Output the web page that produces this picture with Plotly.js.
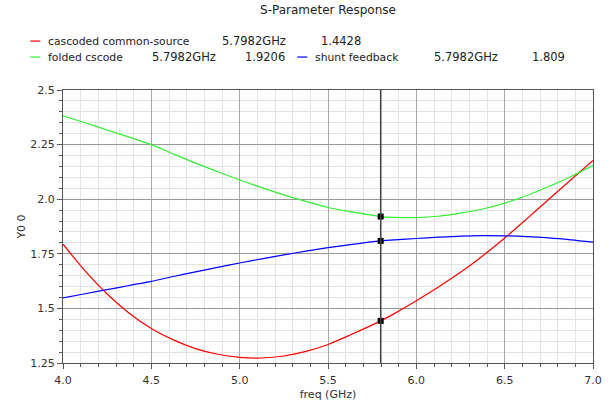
<!DOCTYPE html>
<html><head><meta charset="utf-8">
<script src="https://cdn.plot.ly/plotly-3.0.1.min.js"></script>
<style>html,body{margin:0;padding:0;background:#fff;}#chart{width:614px;height:406px;}</style>
</head><body><div id="chart"></div>
<script>
const freq = [4.0, 4.125, 4.25, 4.375, 4.5, 4.625, 4.75, 4.875, 5.0, 5.125, 5.25, 5.375, 5.5, 5.625, 5.7982, 5.875, 6.0, 6.125, 6.25, 6.375, 6.5, 6.625, 6.75, 6.875, 7.0];
const cascodedCS = [1.794, 1.672, 1.566, 1.478, 1.408, 1.356, 1.316, 1.290, 1.276, 1.273, 1.282, 1.303, 1.335, 1.378, 1.4428, 1.476, 1.535, 1.598, 1.665, 1.740, 1.822, 1.910, 2.000, 2.089, 2.177];
const foldedCscode = [2.382, 2.350, 2.317, 2.284, 2.250, 2.207, 2.165, 2.126, 2.088, 2.053, 2.020, 1.990, 1.962, 1.943, 1.9206, 1.917, 1.916, 1.922, 1.936, 1.955, 1.982, 2.017, 2.058, 2.104, 2.154];
const shuntFeedback = [1.548, 1.567, 1.586, 1.605, 1.624, 1.646, 1.667, 1.688, 1.708, 1.727, 1.745, 1.762, 1.778, 1.792, 1.809, 1.814, 1.820, 1.826, 1.831, 1.833, 1.832, 1.829, 1.823, 1.814, 1.803];
const seriesNames = ['cascoded common-source', 'folded cscode', 'shunt feedback'];
const seriesColors = ['#ff0000', '#33ee33', '#0000ff'];
const cursorX = 5.7982;
const cursorLabel = '5.7982GHz';
const cursorValues = [1.4428, 1.9206, 1.809];
const cursorValueText = ['1.4428', '1.9206', '1.809'];
const yTickVals = [1.25, 1.5, 1.75, 2.0, 2.25, 2.5];
const yTickText = ['1.25', '1.5', '1.75', '2.0', '2.25', '2.5'];
const xTickVals = [4.0, 4.5, 5.0, 5.5, 6.0, 6.5, 7.0];
const xTickText = ['4.0', '4.5', '5.0', '5.5', '6.0', '6.5', '7.0'];

const allY = [cascodedCS, foldedCscode, shuntFeedback];
const traces = allY.map((ys, i) => ({
  x: freq, y: ys, type: 'scatter', mode: 'lines', name: seriesNames[i],
  line: {color: seriesColors[i], width: 1.2, shape: 'spline', smoothing: 0.8}, hoverinfo: 'skip'
}));
traces.push({
  x: cursorValues.map(() => cursorX), y: cursorValues, type: 'scatter', mode: 'markers',
  marker: {symbol: 'square', size: 6, color: '#000'}, showlegend: false, hoverinfo: 'skip'
});

const font = 'DejaVu Sans, sans-serif';
const ann = [];
const shapes = [];
const L = 62.7, W = 530, B = 42.7, H = 273.3;
const px = v => (v - L) / W;
const py = v => (406 - B - v) / H;
// legend rows (pixel layout only)
const rows = [
  {i: 0, lx: 30, ty: 41, nameX: 46, curX: 220, valX: 319},
  {i: 1, lx: 30, ty: 57, nameX: 46, curX: 150, valX: 243},
  {i: 2, lx: 297, ty: 57, nameX: 313, curX: 432, valX: 530}
];
rows.forEach(r => {
  shapes.push({type: 'line', xref: 'paper', yref: 'paper', layer: 'above',
    x0: px(r.lx), x1: px(r.lx + 10), y0: py(r.ty), y1: py(r.ty),
    line: {color: seriesColors[r.i], width: 1.2}});
  ann.push({xref: 'paper', yref: 'paper', x: px(r.nameX), y: py(r.ty), xanchor: 'left', yanchor: 'middle',
    text: seriesNames[r.i], showarrow: false, font: {family: font, size: 10.8, color: '#222'}});
  ann.push({xref: 'paper', yref: 'paper', x: px(r.curX), y: py(r.ty), xanchor: 'left', yanchor: 'middle',
    text: cursorLabel, showarrow: false, font: {family: font, size: 11.5, color: '#222'}});
  ann.push({xref: 'paper', yref: 'paper', x: px(r.valX), y: py(r.ty), xanchor: 'left', yanchor: 'middle',
    text: cursorValueText[r.i], showarrow: false, font: {family: font, size: 11.5, color: '#222'}});
});
shapes.push({type: 'line', xref: 'x', yref: 'paper', x0: cursorX, x1: cursorX, y0: 0, y1: 1,
  line: {color: '#444', width: 1.5}, layer: 'above'});

const layout = {
  width: 614, height: 406,
  margin: {l: L, r: 614 - L - W, t: 406 - B - H, b: B},
  paper_bgcolor: '#fff', plot_bgcolor: '#fff',
  showlegend: false,
  title: {text: 'S-Parameter Response', x: 0.5, xref: 'paper', y: 0.985, yanchor: 'top',
    font: {family: font, size: 12, color: '#222'}},
  xaxis: {range: [4, 7], tickvals: xTickVals, ticktext: xTickText,
    showgrid: true, gridcolor: '#a8a8a8', gridwidth: 1,
    showline: true, linecolor: '#555', linewidth: 1, mirror: true,
    ticks: 'outside', ticklen: 5, tickcolor: '#555', ticklabelstandoff: 2,
    minor: {dtick: 0.1, showgrid: true, gridcolor: '#e4e4e4', ticks: 'outside', ticklen: 3, tickcolor: '#555'},
    zeroline: false, tickfont: {family: font, size: 11, color: '#333'},
    title: {text: 'freq (GHz)', font: {family: font, size: 11, color: '#333'}, standoff: 4}},
  yaxis: {range: [1.25, 2.5], tickvals: yTickVals, ticktext: yTickText,
    showgrid: true, gridcolor: '#989898', gridwidth: 1,
    showline: true, linecolor: '#555', linewidth: 1, mirror: true,
    ticks: 'outside', ticklen: 5, tickcolor: '#555',
    minor: {dtick: 0.05, showgrid: true, gridcolor: '#e4e4e4', ticks: 'outside', ticklen: 3, tickcolor: '#555'},
    zeroline: false, tickfont: {family: font, size: 11, color: '#333'},
    title: {text: 'Y0 0', font: {family: font, size: 11, color: '#333'}, standoff: 2}},
  annotations: ann,
  shapes: shapes
};
Plotly.newPlot('chart', traces, layout, {displayModeBar: false, staticPlot: true});
</script></body></html>
